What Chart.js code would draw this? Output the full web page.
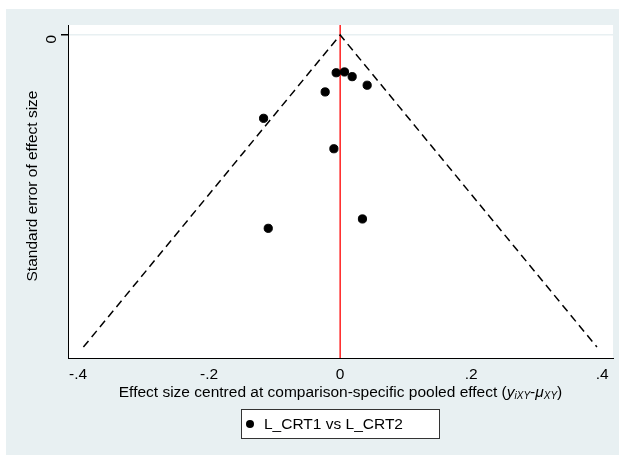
<!DOCTYPE html>
<html>
<head>
<meta charset="utf-8">
<script src="https://cdn.jsdelivr.net/npm/chart.js@4/dist/chart.umd.min.js"></script>
<style>
html,body{margin:0;padding:0;background:#fff;}
#wrap{width:621px;height:455px;position:relative;}
</style>
</head>
<body>
<div id="wrap"><canvas id="c" width="621" height="455"></canvas></div>
<script>
// ---- data ----
const seriesLabel = "L_CRT1 vs L_CRT2";
const effectX = [-0.0061, 0.0066, 0.0183, 0.0412, -0.0229, -0.1169, -0.0096, 0.0340, -0.1098];
const standardError = [0.0242, 0.0237, 0.0267, 0.0322, 0.0365, 0.0534, 0.0729, 0.1179, 0.1239];
const funnelX = [-0.392, 0, 0.392];
const funnelSE = [0.200, 0, 0.200];
const xTicks = [-0.4, -0.2, 0, 0.2, 0.4];
const xTickLabels = ["-.4", "-.2", "0", ".2", ".4"];
const yTicks = [0];
const yTickLabels = ["0"];
const refLineX = [0];
const yTitle = 'Standard error of effect size';

const FONT = "'Liberation Sans', Arial, sans-serif";
const FS = 15.5;
const BG = '#E8F0F2';

const bgPlugin = {
  id: 'bg',
  beforeDraw(chart) {
    const ctx = chart.ctx, a = chart.chartArea;
    ctx.save();
    ctx.fillStyle = '#ffffff';
    ctx.fillRect(0, 0, chart.width, chart.height);
    ctx.fillStyle = BG;
    ctx.fillRect(6, 9, 613, 446);
    ctx.fillStyle = '#ffffff';
    ctx.fillRect(a.left, a.top, a.right - a.left, a.bottom - a.top);
    ctx.restore();
  },
  beforeDatasetsDraw(chart) {
    const ctx = chart.ctx, a = chart.chartArea, xs = chart.scales.x;
    ctx.save();
    ctx.strokeStyle = '#FF2020';
    ctx.lineWidth = 1.5;
    refLineX.forEach(v => {
      const px = xs.getPixelForValue(v);
      ctx.beginPath(); ctx.moveTo(px, a.top); ctx.lineTo(px, a.bottom); ctx.stroke();
    });
    ctx.restore();
  },
  afterDraw(chart) {
    const ctx = chart.ctx, a = chart.chartArea;
    ctx.save();
    ctx.fillStyle = '#000';
    // y axis title
    ctx.save();
    ctx.translate(32.5, 186);
    ctx.rotate(-Math.PI / 2);
    ctx.font = FS + 'px ' + FONT;
    ctx.textAlign = 'center';
    ctx.textBaseline = 'middle';
    ctx.fillText(yTitle, 0, 0);
    ctx.restore();

    // x axis title with italic subscripts
    const parts = [
      {t: 'Effect size centred at comparison-specific pooled effect (', f: FS + 'px ' + FONT, dy: 0},
      {t: 'y', f: 'italic ' + FS + 'px ' + FONT, dy: 0},
      {t: 'iXY', f: 'italic 10px ' + FONT, dy: 3},
      {t: '-', f: FS + 'px ' + FONT, dy: 0},
      {t: 'μ', f: 'italic ' + FS + 'px ' + FONT, dy: 0},
      {t: 'XY', f: 'italic 10px ' + FONT, dy: 3},
      {t: ')', f: FS + 'px ' + FONT, dy: 0}
    ];
    let total = 0;
    parts.forEach(p => { ctx.font = p.f; p.w = ctx.measureText(p.t).width; total += p.w; });
    let x = (a.left + a.right) / 2 - total / 2;
    const y = 393;
    ctx.textBaseline = 'middle';
    ctx.textAlign = 'left';
    parts.forEach(p => { ctx.font = p.f; ctx.fillText(p.t, x, y + p.dy); x += p.w; });

    // legend box
    const lx = 241, ly = 409, lw = 198, lh = 29;
    ctx.fillStyle = '#fff';
    ctx.fillRect(lx, ly, lw, lh);
    ctx.strokeStyle = '#333';
    ctx.lineWidth = 1;
    ctx.strokeRect(lx + 0.5, ly + 0.5, lw, lh);
    ctx.fillStyle = '#000';
    ctx.beginPath(); ctx.arc(250, 424, 4, 0, Math.PI * 2); ctx.fill();
    ctx.font = FS + 'px ' + FONT;
    ctx.textBaseline = 'middle';
    ctx.fillText(chart.data.datasets[0].label, 264, 424.5);
    ctx.restore();
  }
};

new Chart(document.getElementById('c'), {
  type: 'scatter',
  data: {
    datasets: [
      {
        label: seriesLabel,
        data: effectX.map((v, i) => ({x: v, y: standardError[i]})),
        backgroundColor: '#000',
        borderColor: '#000',
        pointRadius: 4.1,
        pointHoverRadius: 4.1,
        order: 1
      },
      {
        label: 'funnel',
        type: 'line',
        data: funnelX.map((v, i) => ({x: v, y: funnelSE[i]})),
        borderColor: '#000',
        borderWidth: 1.5,
        borderDash: [8, 5],
        pointRadius: 0,
        fill: false,
        tension: 0,
        order: 2
      }
    ]
  },
  options: {
    responsive: false,
    animation: false,
    events: [],
    layout: {padding: {left: 0, right: 8, top: 25, bottom: 0}},
    plugins: {legend: {display: false}, tooltip: {enabled: false}},
    scales: {
      x: {
        type: 'linear',
        min: -0.4155,
        max: 0.4165,
        afterBuildTicks(s) { s.ticks = xTicks.map(v => ({value: v})); },
        afterFit(s) { s.height = 97; },
        ticks: {
          callback: (v) => { const i = xTicks.findIndex(t => Math.abs(t - v) < 1e-9); return i >= 0 ? xTickLabels[i] : ''; },
          color: '#000',
          font: {family: FONT, size: FS},
          padding: 2,
          maxRotation: 0,
          autoSkip: false
        },
        grid: {display: false, drawOnChartArea: false, drawTicks: true, tickLength: 5, tickColor: '#000', color: '#000'},
        border: {display: true, color: '#000', width: 1}
      },
      y: {
        type: 'linear',
        reverse: true,
        min: -0.0064,
        max: 0.2070,
        afterBuildTicks(s) { s.ticks = yTicks.map(v => ({value: v})); },
        afterFit(s) { s.width = 68; },
        ticks: {
          callback: (v) => { const i = yTicks.findIndex(t => Math.abs(t - v) < 1e-9); return i >= 0 ? yTickLabels[i] : ''; },
          color: '#000',
          font: {family: FONT, size: FS},
          minRotation: 90,
          maxRotation: 90,
          padding: 9
        },
        grid: {display: true, drawOnChartArea: true, color: BG, lineWidth: 1.5, drawTicks: true, tickLength: 7, tickColor: '#000'},
        border: {display: true, color: '#000', width: 1},
        title: {display: false}
      }
    }
  },
  plugins: [bgPlugin]
});
</script>
</body>
</html>
